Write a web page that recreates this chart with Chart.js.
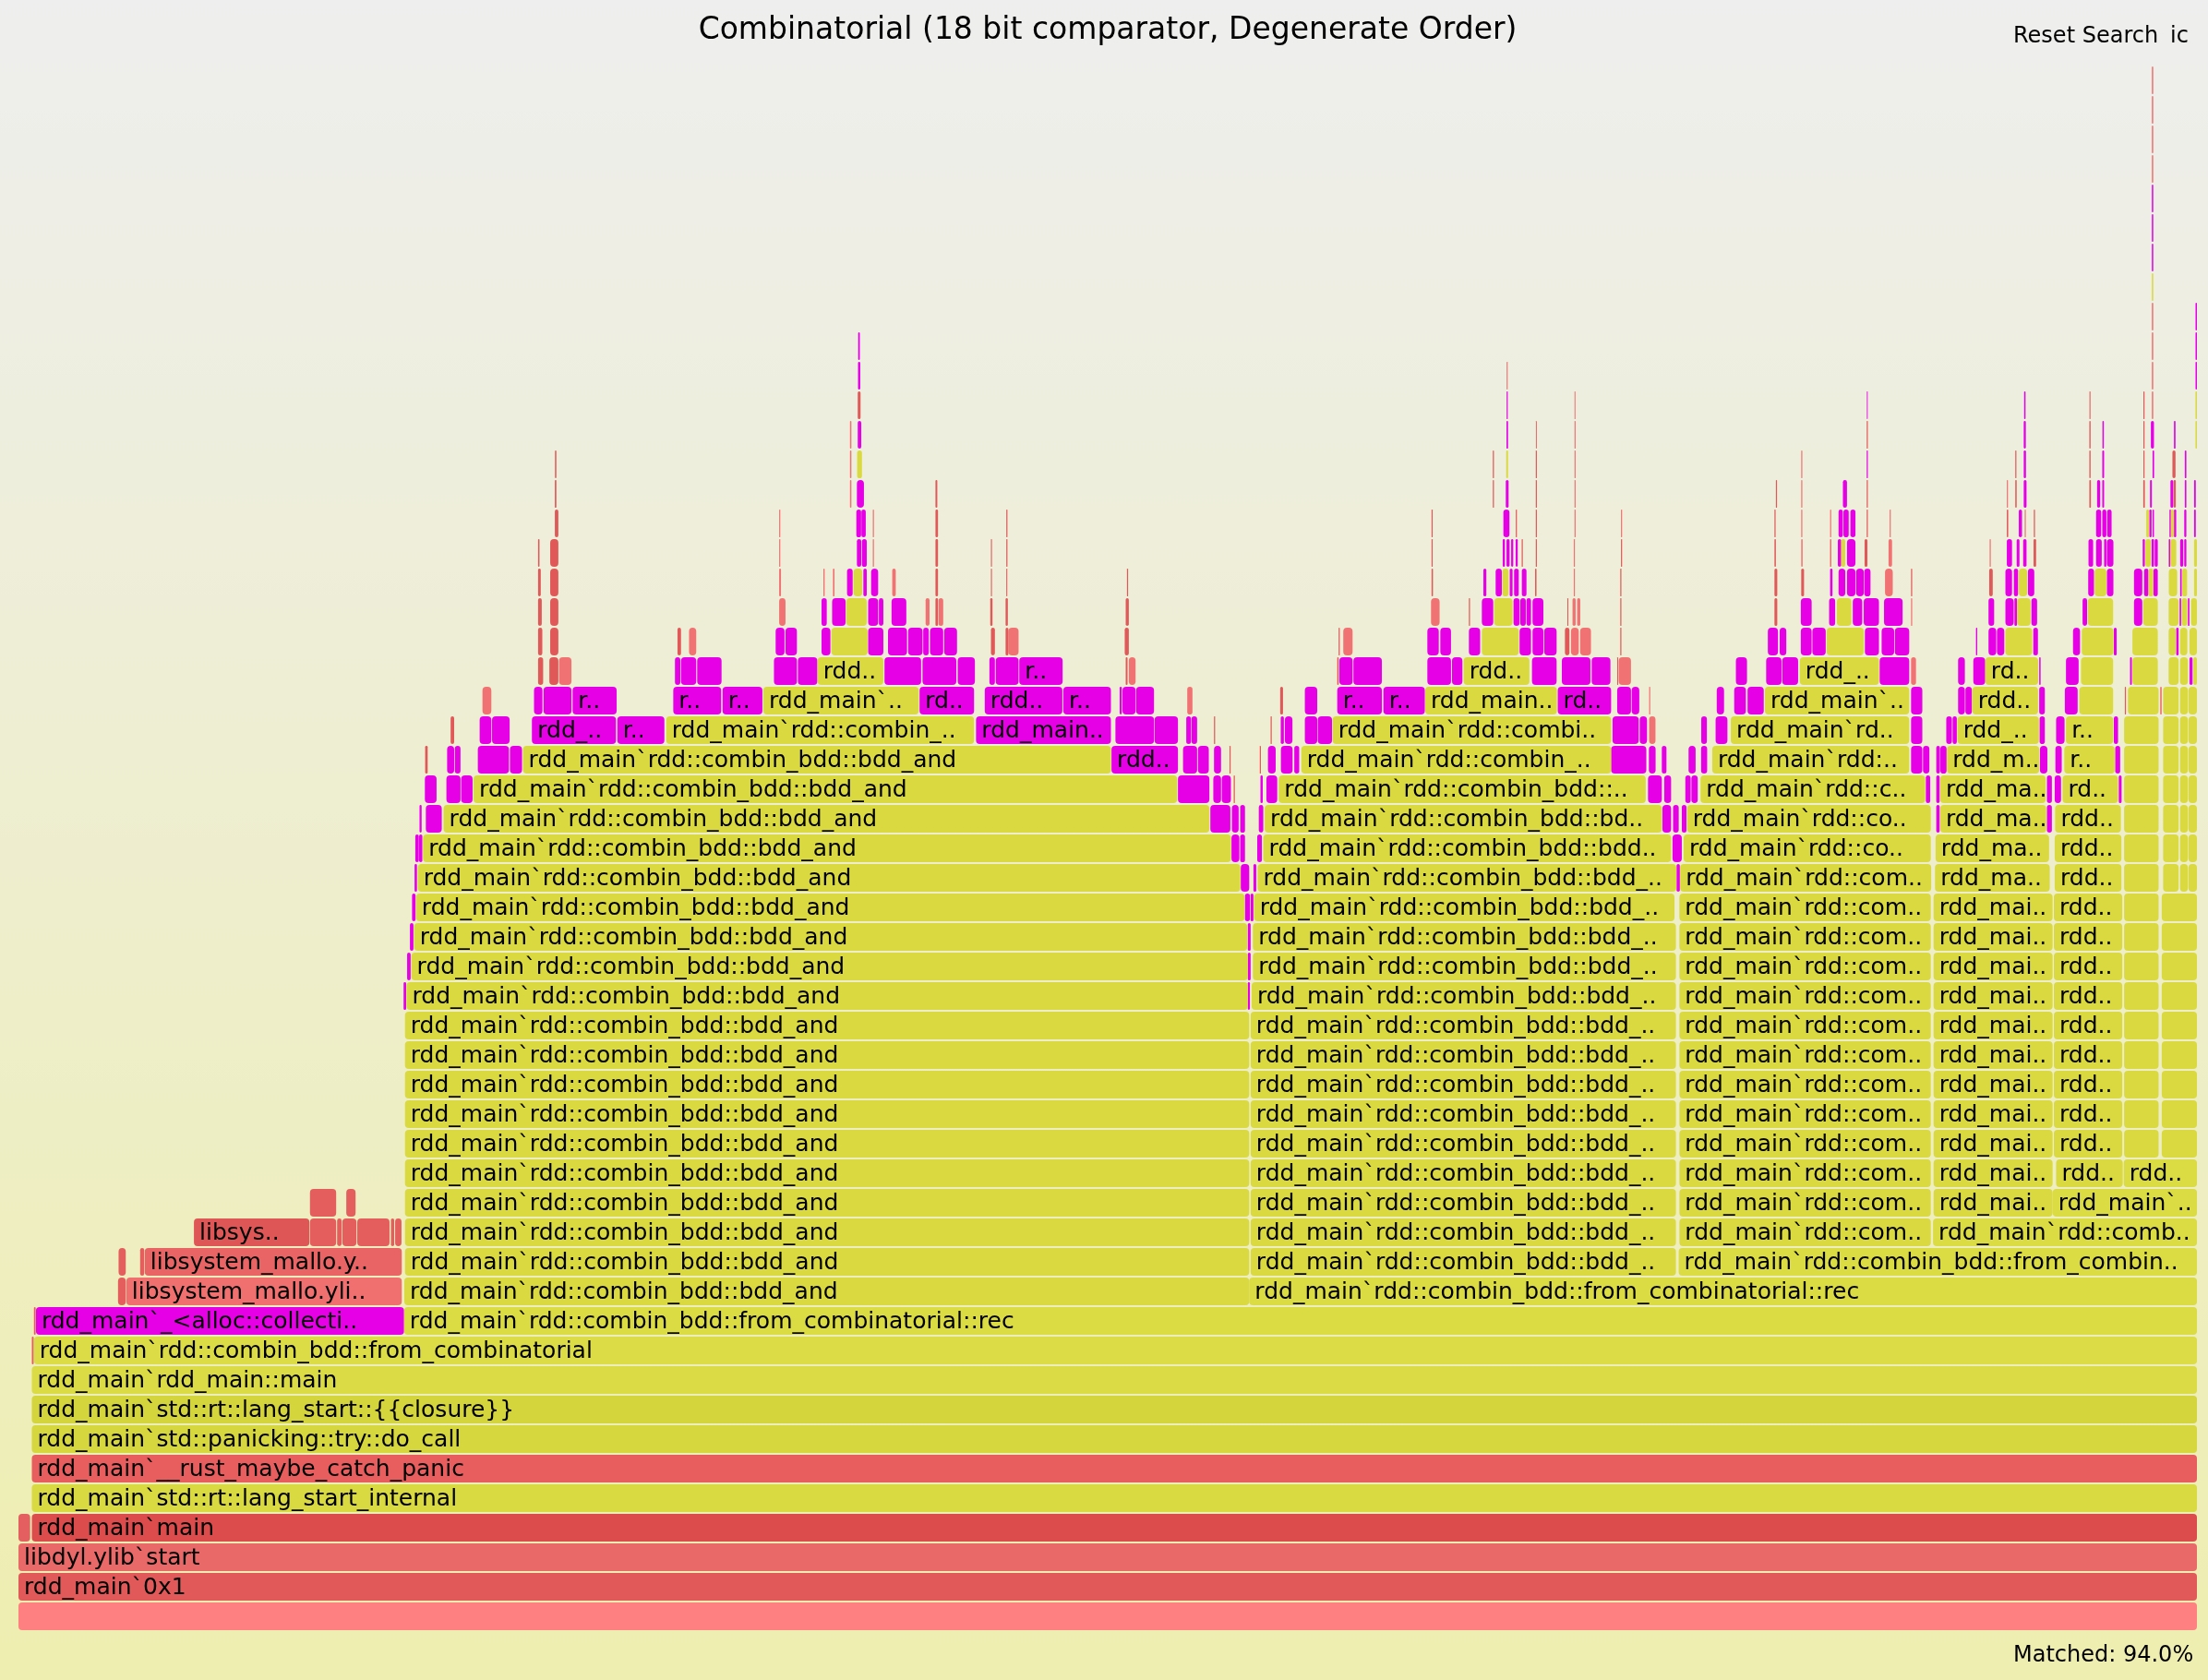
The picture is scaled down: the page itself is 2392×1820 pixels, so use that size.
<!DOCTYPE html>
<html>
<head>
<meta charset="utf-8">
<script src="https://cdn.jsdelivr.net/npm/chart.js@4/dist/chart.umd.min.js"></script>
<style>
  html, body { margin: 0; padding: 0; }
  body {
    width: 2392px; height: 1820px; overflow: hidden;
    background: linear-gradient(to bottom, #eeeeee 0%, #eeeeb0 100%);
  }
  canvas { display: block; }
</style>
</head>
<body>
<canvas id="fg" width="2392" height="1820"></canvas>
<script>
// ---------------- data (sample offsets, total samples) ----------------
const TOTAL_SAMPLES = 1547;
const MAX_DEPTH = 52;
const TITLE = 'Combinatorial (18 bit comparator, Degenerate Order)';
const SEARCH_TEXT = 'Reset Search';
const IC_TEXT = 'ic';
const MATCHED_TEXT = 'Matched: 94.0%';

const BDD_AND = 'rdd_main`rdd::combin_bdd::bdd_and';
const FROM_COMB_REC = 'rdd_main`rdd::combin_bdd::from_combinatorial::rec';
const ALLOC = 'rdd_main`_<alloc::collections>';
const FREE = 'libsystem_mallo.ylib`free';

// [depth, start, end, name]
const stackFrames = [
  [0, 0, 1547, ''],
  [1, 0, 1547, 'rdd_main`0x1'],
  [2, 0, 1547, 'libdyl.ylib`start'],
  [3, 0, 8.3, '[unknown]'],
  [3, 9.5, 1547, 'rdd_main`main'],
  [4, 9.5, 1547, 'rdd_main`std::rt::lang_start_internal'],
  [5, 9.5, 1547, 'rdd_main`__rust_maybe_catch_panic'],
  [6, 9.5, 1547, 'rdd_main`std::panicking::try::do_call'],
  [7, 9.5, 1547, 'rdd_main`std::rt::lang_start::{{closure}}'],
  [8, 9.5, 1547, 'rdd_main`rdd_main::main'],
  [9, 9.5, 10.8, '[unknown]'],
  [9, 11, 1547, 'rdd_main`rdd::combin_bdd::from_combinatorial'],
  [10, 11, 12.2, '[unknown]']
];

// [depth, start, end, name]
const mallocFrames = [
  [11, 70.7, 76.2, FREE],
  [11, 76.6, 272.2, 'libsystem_mallo.ylib`malloc'],
  [12, 71.1, 76.2, FREE],
  [12, 86.4, 89.3, FREE],
  [12, 89.7, 272.2, 'libsystem_mallo.ylib`malloc_zone_malloc'],
  [13, 124.6, 206.6, 'libsystem_mallo.ylib`szone_malloc_should_clear'],
  [13, 207, 225.6, FREE],
  [13, 226.3, 229.5, FREE],
  [13, 230, 240, FREE],
  [13, 240.6, 263.5, FREE],
  [13, 264.5, 266.8, FREE],
  [13, 267.5, 272, FREE],
  [14, 207, 225.6, FREE],
  [14, 232.8, 239.4, FREE]
];

// [depth, start, end]
const recFrames = [
  [10, 273.9, 1547], [11, 874, 1547], [12, 1179, 1547],
  [13, 1359.6, 1547], [14, 1444.6, 1547], [15, 1495, 1547]
];

const bddTowerA = [
  [11, 274, 874], [12, 274.5, 874], [13, 274.5, 874], [14, 274.5, 874], [15, 274.5, 874],
  [16, 274.5, 874], [17, 274.5, 874], [18, 274.5, 874], [19, 274.5, 874], [20, 274.5, 874],
  [21, 275.6, 873], [22, 279, 873], [23, 281, 872.6], [24, 282.4, 870.7], [25, 283.6, 867.7],
  [26, 287.3, 861], [27, 301.9, 845.7], [28, 323.2, 822.8], [29, 358.3, 775.8], [30, 460, 678.6],
  [31, 529, 639.3], [32, 567.5, 614.2], [33, 577.3, 603], [34, 587.9, 602.4], [35, 593, 599.2],
  [39, 595.6, 599]
];

const bddTowerB = [
  [12, 875, 1177], [13, 875, 1177], [14, 875, 1177], [15, 875, 1177], [16, 875, 1177],
  [17, 875, 1177], [18, 875, 1177], [19, 875, 1177], [20, 875, 1177],
  [21, 875.7, 1177], [22, 876.6, 1177], [23, 876.6, 1177], [24, 877.5, 1176], [25, 880, 1177.3],
  [26, 884, 1173.6], [27, 885, 1167], [28, 895, 1155.6], [29, 911, 1131], [30, 933.2, 1131],
  [31, 999, 1092.5], [32, 1026.3, 1073], [33, 1039.2, 1065.4], [34, 1048, 1061], [35, 1053.8, 1058.2],
  [39, 1056.5, 1057.8]
];

const bddTowerC = [
  [13, 1179.5, 1358], [14, 1179.5, 1358], [15, 1179.5, 1358], [16, 1179.5, 1358], [17, 1179.5, 1358],
  [18, 1179.5, 1358], [19, 1179.5, 1358], [20, 1179.5, 1358], [21, 1179.5, 1358], [22, 1179.5, 1358],
  [23, 1179.5, 1358], [24, 1179.5, 1358],
  [25, 1180, 1358.3], [26, 1182.5, 1358], [27, 1185, 1358], [28, 1194.5, 1354], [29, 1202.8, 1342.7],
  [30, 1216, 1342.7], [31, 1240.2, 1342.7], [32, 1265, 1321.2], [33, 1284.1, 1310.4], [34, 1291.3, 1301.6],
  [36, 1294.4, 1297.3]
];

const bddTowerD = [
  [14, 1360, 1444.5], [15, 1360, 1444.5], [16, 1360, 1444.5], [17, 1360, 1444.5], [18, 1360, 1444.5],
  [19, 1360, 1444.5], [20, 1360, 1444.5], [21, 1360, 1444.5], [22, 1360, 1444.5], [23, 1360, 1444.5],
  [24, 1360, 1444.5],
  [25, 1361, 1442.5], [26, 1361.4, 1442], [27, 1364.7, 1440], [28, 1364.7, 1439.6], [29, 1369.5, 1435],
  [30, 1377, 1434.8], [31, 1387.5, 1434.2], [32, 1396.8, 1434.3], [33, 1411, 1430], [34, 1419.3, 1428.9],
  [35, 1420.5, 1426.5]
];

const bddTowerE = [
  [15, 1447, 1494.3], [16, 1445.4, 1494], [17, 1445.4, 1494], [18, 1445.4, 1494], [19, 1445.4, 1494],
  [20, 1445.4, 1494], [21, 1445.4, 1494], [22, 1445.4, 1494], [23, 1445.4, 1494], [24, 1445.4, 1494],
  [25, 1446, 1493.4], [26, 1446, 1493.4], [27, 1446.3, 1493], [28, 1451.6, 1491], [29, 1452.8, 1488.6],
  [30, 1454, 1487.5], [31, 1463.5, 1487.5], [32, 1464.7, 1487.5], [33, 1465.2, 1487.7], [34, 1469.5, 1487.5],
  [35, 1474.4, 1482.7]
];

const bddRightEdge = [
  [16, 1495.3, 1519.8], [16, 1522, 1547], [17, 1495.3, 1519.8], [17, 1522, 1547],
  [18, 1495.3, 1519.8], [18, 1522, 1547], [19, 1495.3, 1519.8], [19, 1522, 1547],
  [20, 1495.3, 1519.8], [20, 1522, 1547], [21, 1495.3, 1519.8], [21, 1522, 1547],
  [22, 1495.3, 1519.8], [22, 1522, 1547], [23, 1495.3, 1519.8], [23, 1522, 1547],
  [24, 1495.3, 1519.8], [24, 1522, 1547],
  [25, 1495.3, 1519.8], [25, 1523, 1534], [25, 1535, 1540.6], [25, 1541, 1547],
  [26, 1495.3, 1519.8], [26, 1523, 1534], [26, 1535, 1540.6], [26, 1541, 1547],
  [27, 1495.3, 1519.8], [27, 1523, 1534], [27, 1535, 1540.6], [27, 1541, 1547],
  [28, 1495.3, 1519.8], [28, 1523, 1534], [28, 1535, 1540.6], [28, 1541, 1547],
  [29, 1495.3, 1519.8], [29, 1523, 1534], [29, 1535, 1540.6], [29, 1541, 1547],
  [30, 1495.3, 1519.8], [30, 1523, 1534], [30, 1535, 1540.6], [30, 1541, 1547],
  [31, 1498, 1519.8], [31, 1523, 1534], [31, 1535, 1540.6], [31, 1541, 1547],
  [32, 1501.2, 1519.2], [32, 1526.9, 1534], [32, 1535, 1540.6], [32, 1544.5, 1547],
  [33, 1501.2, 1519.2], [33, 1526.9, 1532], [33, 1535, 1540.2], [33, 1541.7, 1547],
  [34, 1508.9, 1519.2], [34, 1526.9, 1534], [34, 1536.2, 1540.1], [34, 1542.8, 1547],
  [35, 1512.6, 1516], [35, 1527, 1533], [35, 1536.6, 1540], [35, 1545, 1547],
  [36, 1510.4, 1514.3], [36, 1528.1, 1532.3], [36, 1545, 1547],
  [37, 1511, 1513], [37, 1528.5, 1530.7],
  [40, 1546, 1547], [41, 1546, 1547], [45, 1515, 1516]
];

// search-matched frames (magenta)
const matchedA = [
  [10, 12.4, 273.8],
  [21, 273.5, 275.3], [21, 873, 874.5], [22, 276, 278.5], [22, 873, 875],
  [23, 278, 280.5], [23, 873, 875], [24, 279.5, 282], [24, 871, 874.5],
  [25, 281.3, 283], [25, 868, 874],
  [26, 281.8, 284.3], [26, 284.5, 286.8], [26, 861.4, 867], [26, 867.6, 871],
  [27, 284.8, 286.3], [27, 289.3, 300.6], [27, 846.4, 860.6], [27, 861.7, 866.5], [27, 867.6, 871],
  [28, 288.6, 296.9], [28, 303.9, 313.9], [28, 314.4, 322.5], [28, 823.4, 845.7], [28, 848.5, 854], [28, 854.5, 861],
  [29, 304.4, 309.4], [29, 309.9, 313.9], [29, 326.2, 348.3], [29, 349, 357.6], [29, 776.2, 823.4],
  [29, 827, 837], [29, 837.6, 845.3], [29, 849, 854],
  [30, 327.5, 335.8], [30, 336.3, 348.8], [30, 364.6, 424.3], [30, 425.3, 458.7], [30, 680, 775.8],
  [30, 779, 806.4], [30, 806.8, 823.4], [30, 829.3, 832.6], [30, 833, 837],
  [31, 366.1, 372.1], [31, 372.9, 392.7], [31, 393.5, 424.8], [31, 465, 499], [31, 500, 528.3],
  [31, 639.9, 678.6], [31, 686.2, 741.3], [31, 742, 775.8], [31, 782, 783.5], [31, 784, 793.3], [31, 793.7, 806.4],
  [32, 466.2, 470], [32, 470.5, 481.3], [32, 482, 499.3], [32, 536.5, 552.8], [32, 553.5, 567.3],
  [32, 615, 641], [32, 642, 666], [32, 667, 679.2], [32, 689.5, 693.4], [32, 694, 710.2], [32, 710.7, 741.5],
  [33, 537.7, 544], [33, 544.7, 552.8], [33, 570.3, 576.6], [33, 603.4, 614.2], [33, 617.5, 631],
  [33, 631.8, 642], [33, 642.5, 646.4], [33, 647.3, 656.7], [33, 657.4, 666.5],
  [34, 570.3, 574], [34, 577.8, 587.4], [34, 603.4, 610.5], [34, 611, 614.2], [34, 620, 630.5],
  [35, 588.4, 592.4], [35, 600, 602.4], [35, 605.5, 610.5],
  [36, 595.4, 598.5], [36, 599, 602.4], [37, 595, 598.4], [37, 598.6, 601.7], [38, 595.4, 600.4],
  [40, 596, 598.5], [42, 596.2, 597.8], [43, 596.3, 597.5]
];

const matchedB = [
  [24, 875, 877], [25, 877, 879], [25, 1177.5, 1179.8],
  [26, 879.7, 883], [26, 1174.6, 1181.2],
  [27, 880.8, 884], [27, 1167.4, 1173.6], [27, 1175, 1179],
  [28, 882, 883.6], [28, 886.2, 893.9], [28, 1157.2, 1167], [28, 1168.7, 1173.6],
  [29, 887.3, 892.8], [29, 896.5, 904.8], [29, 906, 909.5], [29, 1131, 1156], [29, 1157.8, 1162.6], [29, 1167, 1170.3],
  [30, 896.4, 898.6], [30, 899.3, 904.7], [30, 913.5, 922.3], [30, 922.7, 932.8], [30, 1132, 1150.6], [30, 1151.3, 1156.5],
  [31, 913.5, 922.3], [31, 936.5, 968.2], [31, 969.3, 998.7], [31, 1093.1, 1131], [31, 1135.3, 1145.1], [31, 1145.6, 1151],
  [32, 938, 947.4], [32, 948, 968.2], [32, 1000.5, 1017.3], [32, 1018, 1025.4], [32, 1074.8, 1092.3],
  [32, 1096, 1116.3], [32, 1117.2, 1130.5],
  [33, 1000.5, 1008.6], [33, 1009.7, 1017.3], [33, 1030, 1038], [33, 1066, 1074.1], [33, 1075.2, 1082.9], [33, 1083.5, 1092.3],
  [34, 1039.2, 1047.3], [34, 1061.7, 1066], [34, 1066.5, 1070.4], [34, 1070.9, 1074.1], [34, 1075.2, 1082.9],
  [35, 1040.3, 1042.4], [35, 1049, 1053.4], [35, 1059, 1061], [35, 1062.1, 1065.4], [35, 1067.6, 1070.9],
  [36, 1054, 1055.6], [36, 1056.7, 1058.9], [36, 1060, 1061.5], [36, 1063.2, 1064.7],
  [37, 1054.5, 1058.8], [38, 1056.2, 1058.2], [40, 1056.7, 1057.8], [41, 1056.8, 1057.6]
];

const matchedC = [
  [27, 1181.2, 1184.5],
  [28, 1183.7, 1187.5], [28, 1188, 1192.5], [28, 1354.5, 1357.6],
  [29, 1186, 1191], [29, 1194.9, 1199.2], [29, 1344, 1352], [29, 1352.5, 1357],
  [30, 1195, 1199], [30, 1205.2, 1213.6], [30, 1344, 1352],
  [31, 1206, 1211.2], [31, 1218.4, 1226.7], [31, 1227.9, 1239.4], [31, 1344, 1352],
  [32, 1219.6, 1227.5], [32, 1241.1, 1252], [32, 1252.5, 1263.8], [32, 1321.7, 1342.7],
  [33, 1242.3, 1249.5], [33, 1250.7, 1255.4], [33, 1265.7, 1273.4], [33, 1273.9, 1283.4],
  [33, 1311.2, 1321.2], [33, 1323.1, 1332], [33, 1332.5, 1342.7],
  [34, 1265.7, 1273.4], [34, 1285.8, 1290.1], [34, 1302.6, 1309.3], [34, 1310.4, 1321.2], [34, 1324.8, 1338],
  [35, 1286.5, 1288.2], [35, 1292.5, 1297.3], [35, 1298.5, 1304.5], [35, 1305, 1310.4], [35, 1310.8, 1315.2],
  [36, 1292, 1294.4], [36, 1298.5, 1304.5],
  [37, 1292.5, 1295.5], [37, 1296, 1299.7], [37, 1300.9, 1304.5],
  [38, 1295.6, 1298.5], [39, 1312.5, 1313.3], [41, 1312.6, 1313.2]
];

const matchedD = [
  [27, 1361.9, 1364.3], [27, 1440.5, 1444], [28, 1361.9, 1364.3], [28, 1440.5, 1444],
  [29, 1361.9, 1364.5], [29, 1364.8, 1369.2], [29, 1435.5, 1440.8],
  [30, 1369, 1373], [30, 1373.5, 1376.5], [30, 1435.3, 1439],
  [31, 1377.4, 1382.2], [31, 1382.6, 1387.2], [31, 1435, 1439],
  [32, 1377.4, 1382.2], [32, 1388.2, 1396.6], [32, 1435, 1436],
  [33, 1390.1, 1391], [33, 1399, 1404.5], [33, 1405, 1410.2], [33, 1430.8, 1434.1],
  [34, 1399, 1403], [34, 1411, 1416.9], [34, 1417.4, 1419.2], [34, 1429.5, 1433.5],
  [35, 1411, 1415.7], [35, 1417, 1420], [35, 1427, 1431.5],
  [36, 1412, 1415.7], [36, 1419, 1421], [36, 1423.6, 1426],
  [37, 1420.5, 1422.8], [38, 1424, 1426], [39, 1424, 1425.6], [40, 1424, 1425.5], [41, 1424.3, 1425.3]
];

const matchedE = [
  [28, 1446, 1450.5], [28, 1491.5, 1493.5], [29, 1446.5, 1451], [29, 1489, 1492.5],
  [30, 1447, 1453], [30, 1488, 1491], [31, 1453.2, 1462.3], [32, 1454, 1463],
  [33, 1459, 1464], [33, 1488, 1490], [34, 1465.8, 1469],
  [35, 1469.8, 1473.9], [35, 1483.1, 1487.7],
  [36, 1470, 1473.3], [36, 1475.4, 1479.4], [36, 1481.1, 1482.7], [36, 1483.1, 1487.7],
  [37, 1475.4, 1479], [37, 1479.8, 1482.7], [37, 1483.3, 1486.4],
  [38, 1476.1, 1478.3], [38, 1479.8, 1481.1], [39, 1479.8, 1481.1], [40, 1479.9, 1480.9]
];

const matchedRightEdge = [
  [32, 1499.5, 1500.8], [32, 1541.7, 1543.9], [33, 1532.3, 1534],
  [34, 1502.3, 1508.2], [34, 1534.7, 1535.8], [34, 1540.6, 1541.7],
  [35, 1502.3, 1508.2], [35, 1509.5, 1512.6], [35, 1516.1, 1519.2], [35, 1535.1, 1536.2],
  [36, 1508.5, 1510], [36, 1514.8, 1516.5], [36, 1517, 1519.2], [36, 1527, 1528.1], [36, 1535.1, 1537.3], [36, 1538, 1539.5],
  [37, 1513.2, 1514.8], [37, 1515.5, 1516.5], [37, 1527.5, 1528.5], [37, 1530.7, 1532.3], [37, 1538, 1539.5], [37, 1545, 1546.2],
  [38, 1513.7, 1515], [38, 1528.2, 1530.2], [38, 1538.4, 1539.5], [38, 1545, 1546.2],
  [39, 1515.5, 1516.6], [39, 1538.4, 1539.5], [40, 1514.3, 1516.5], [40, 1530.7, 1531.8],
  [42, 1546, 1547], [43, 1546, 1547], [44, 1546, 1547],
  [46, 1515, 1516], [47, 1515, 1516], [48, 1515, 1516]
];

// small allocator frames (two red shades)
const freeDark = [
  [28, 863, 863.8], [29, 288.8, 290.6], [29, 860, 860.8], [30, 306.9, 309.4], [30, 849, 849.8],
  [32, 369, 372.6], [32, 377, 383.4], [32, 786.3, 787.6],
  [33, 369, 372], [33, 377.6, 383.4], [33, 468, 470.5], [33, 690.6, 693.4], [33, 701, 703], [33, 785.6, 788.5],
  [34, 369, 371.6], [34, 377.6, 383.4], [34, 651.2, 653], [34, 690.1, 691.7], [34, 701, 702.6], [34, 786.3, 788.5],
  [35, 369, 370.9], [35, 377.6, 383.4], [35, 651.2, 653], [35, 690.6, 691.3], [35, 701.5, 702.2], [35, 787.2, 788],
  [36, 369, 370], [36, 377.6, 383.4], [36, 651.2, 653], [36, 690.6, 691.3], [36, 701.5, 702.3],
  [37, 380.9, 383.4], [37, 651.2, 653], [37, 701.5, 702.3],
  [38, 380.9, 382], [38, 651.2, 652.5], [39, 381, 382], [41, 596, 598],
  [29, 881.5, 882.3], [30, 889.2, 890], [31, 896, 898], [32, 936.5, 937.5], [32, 1135.3, 1136],
  [33, 937.5, 938.3], [33, 1098.2, 1101.4], [33, 1137.5, 1138.3],
  [34, 1030, 1030.8], [34, 1099.9, 1100.6], [34, 1137.5, 1138.3],
  [35, 1003.5, 1004.5], [35, 1077, 1078], [35, 1137.5, 1138.3],
  [36, 1003.5, 1004.3], [36, 1067.5, 1068.3], [36, 1077.5, 1078.3], [36, 1138, 1138.8],
  [37, 1003.5, 1004.3], [37, 1063.3, 1064.1], [37, 1077.5, 1078.3],
  [38, 1077.5, 1078.3], [38, 1047, 1047.8], [39, 1077.5, 1078.3], [39, 1047, 1047.8],
  [40, 1077.6, 1078.2], [42, 1056.9, 1057.5],
  [34, 1247, 1249], [35, 1247, 1249], [35, 1266, 1268], [35, 1344, 1344.8], [36, 1247, 1248],
  [36, 1286.5, 1287.3], [36, 1311, 1313], [37, 1247, 1247.8], [37, 1312.5, 1313.3],
  [38, 1248, 1248.8], [38, 1312.5, 1313.3], [40, 1312.5, 1313.3],
  [35, 1399.5, 1402], [36, 1431, 1432.8], [37, 1412, 1413], [37, 1431.2, 1432], [38, 1418, 1419], [39, 1418, 1418.8],
  [38, 1470.6, 1471.7], [39, 1470.6, 1471.5], [40, 1470.6, 1471.5], [41, 1470.7, 1471.4],
  [31, 1495.8, 1496.6], [38, 1508.9, 1510], [39, 1509, 1509.8], [40, 1509, 1509.8], [41, 1509, 1509.8],
  [39, 1529.6, 1531.8], [38, 1530.5, 1532]
];

const freeLight = [
  [30, 1158, 1162.5], [31, 830, 833.7], [31, 329.5, 335.8], [31, 1158, 1158.8],
  [32, 383.9, 392.7], [32, 788.5, 793.3], [32, 1136.4, 1145.1], [32, 1344, 1347.5],
  [33, 476.2, 481.3], [33, 703, 710.2], [33, 940.8, 947.4], [33, 1102.5, 1108], [33, 1109, 1116.7],
  [34, 540.2, 544.7], [34, 644.2, 647], [34, 653.4, 656.7], [34, 1003.1, 1009.2], [34, 1103.6, 1105.8],
  [34, 1106.9, 1109.1], [34, 1344, 1344.8],
  [35, 540.2, 541.5], [35, 571.6, 572.5], [35, 578.4, 579.5], [35, 620.5, 623], [35, 1104.5, 1105.3], [35, 1325.5, 1331],
  [36, 540.2, 541], [36, 606.7, 607.5], [36, 1104.5, 1105.3], [36, 1266, 1267], [36, 1328, 1330.5], [36, 1399.8, 1400.6],
  [37, 540.2, 541], [37, 606.7, 607.5], [37, 1105, 1105.8], [37, 1138, 1138.8], [37, 1266, 1266.8],
  [37, 1286.5, 1287.3], [37, 1328.8, 1329.6], [37, 1424.7, 1425.5],
  [38, 590.5, 591.5], [38, 1105, 1105.8], [38, 1266, 1266.8], [38, 1412, 1412.8],
  [39, 590.5, 591.5], [39, 1105, 1105.8], [39, 1266, 1266.8],
  [40, 590.5, 591.5], [40, 1105, 1105.8], [41, 1105, 1105.7],
  [31, 1520.9, 1522],
  [41, 1515, 1516], [42, 1515, 1516], [43, 1515, 1516], [44, 1515, 1516],
  [49, 1515, 1516], [50, 1515, 1516], [51, 1515, 1516], [52, 1515, 1516]
];

// ---------------- styles ----------------
const COLOR_BY_NAME = {
  '': '#fe8080',
  'rdd_main`0x1': '#e15959',
  'libdyl.ylib`start': '#e96868',
  '[unknown]': '#e46060',
  'rdd_main`main': '#dc4c4c',
  'rdd_main`std::rt::lang_start_internal': '#d9d942',
  'rdd_main`__rust_maybe_catch_panic': '#e85e5e',
  'rdd_main`std::panicking::try::do_call': '#d6d63f',
  'rdd_main`std::rt::lang_start::{{closure}}': '#d4d43d',
  'rdd_main`rdd_main::main': '#dbdb45',
  'rdd_main`rdd::combin_bdd::from_combinatorial': '#dcdc46',
  'libsystem_mallo.ylib`malloc': '#f07070',
  'libsystem_mallo.ylib`malloc_zone_malloc': '#e96464',
  'libsystem_mallo.ylib`szone_malloc_should_clear': '#de5656'
};
const YELLOW = '#dada40';
const REC_YELLOW = '#dbdb43';
const MAGENTA = '#e600e6';
const RED_DARK = '#e05858';
const RED_LIGHT = '#f07272';
const MALLOC_SMALL = '#e45e5e';

const FONT_FAMILY = 'Verdana, "DejaVu Sans", sans-serif';
const LABEL_SIZE = 25;
const CHAR_W = 24 * 0.59;

function toPoints(list, name) {
  return list.map(f => ({ x: [f[1], f[2]], y: f[0], name: f.length > 3 ? f[3] : name }));
}

const depthLabels = [];
for (let d = 0; d <= MAX_DEPTH; d++) depthLabels.push(d);

const stackPts = toPoints(stackFrames);
const mallocPts = toPoints(mallocFrames);
const datasets = [
  { label: 'stack', data: stackPts, backgroundColor: stackPts.map(p => COLOR_BY_NAME[p.name]) },
  { label: 'malloc', data: mallocPts, backgroundColor: mallocPts.map(p => COLOR_BY_NAME[p.name] || MALLOC_SMALL) },
  { label: 'rec', data: toPoints(recFrames, FROM_COMB_REC), backgroundColor: REC_YELLOW },
  { label: 'bdd_and', data: toPoints([].concat(bddTowerA, bddTowerB, bddTowerC, bddTowerD, bddTowerE, bddRightEdge), BDD_AND), backgroundColor: YELLOW },
  { label: 'matched', data: toPoints([].concat(matchedA, matchedB, matchedC, matchedD, matchedE, matchedRightEdge), ALLOC), backgroundColor: MAGENTA },
  { label: 'free', data: toPoints(freeDark, FREE), backgroundColor: RED_DARK },
  { label: 'free2', data: toPoints(freeLight, FREE), backgroundColor: RED_LIGHT }
];

// frame labels, truncated the flame-graph way
const frameLabels = {
  id: 'frameLabels',
  afterDatasetsDraw(chart) {
    const ctx = chart.ctx;
    ctx.save();
    ctx.font = LABEL_SIZE + 'px ' + FONT_FAMILY;
    ctx.fillStyle = '#000000';
    ctx.textBaseline = 'alphabetic';
    ctx.textAlign = 'left';
    chart.data.datasets.forEach((ds, di) => {
      const meta = chart.getDatasetMeta(di);
      meta.data.forEach((bar, i) => {
        const name = ds.data[i].name;
        if (!name) return;
        const p = bar.getProps(['x', 'y', 'base'], true);
        const left = Math.min(p.x, p.base);
        const w = Math.abs(p.x - p.base);
        const chars = Math.floor(w / CHAR_W);
        if (chars < 3) return;
        let text = name.substring(0, chars);
        if (chars < name.length) text = text.substring(0, chars - 2) + '..';
        ctx.fillText(text, left + 6, p.y + 7.5);
      });
    });
    ctx.restore();
  }
};

// search controls and match summary
const controlsText = {
  id: 'controlsText',
  afterDraw(chart) {
    const ctx = chart.ctx;
    ctx.save();
    ctx.font = '24px ' + FONT_FAMILY;
    ctx.fillStyle = '#000000';
    ctx.textBaseline = 'alphabetic';
    ctx.textAlign = 'left';
    ctx.fillText(SEARCH_TEXT, 2181, 46);
    ctx.fillText(IC_TEXT, 2351, 46);
    ctx.fillText(MATCHED_TEXT, 2181, 1800);
    ctx.restore();
  }
};

new Chart(document.getElementById('fg'), {
  type: 'bar',
  data: { labels: depthLabels, datasets },
  options: {
    indexAxis: 'y',
    responsive: false,
    animation: false,
    events: [],
    layout: { padding: { left: 20, right: 12, top: 0, bottom: 53 } },
    datasets: {
      bar: {
        grouped: false,
        barPercentage: 0.9375,
        categoryPercentage: 1,
        borderRadius: 4,
        borderSkipped: false,
        borderWidth: 0
      }
    },
    scales: {
      x: { type: 'linear', min: 0, max: TOTAL_SAMPLES, display: false },
      y: { type: 'category', reverse: true, display: false, offset: true }
    },
    plugins: {
      legend: { display: false },
      tooltip: { enabled: false },
      title: {
        display: true,
        text: TITLE,
        color: '#000000',
        font: { family: FONT_FAMILY, size: 33, weight: 'normal', lineHeight: 1.2 },
        padding: { top: 13.8, bottom: 17.6 }
      }
    }
  },
  plugins: [frameLabels, controlsText]
});
</script>
</body>
</html>
